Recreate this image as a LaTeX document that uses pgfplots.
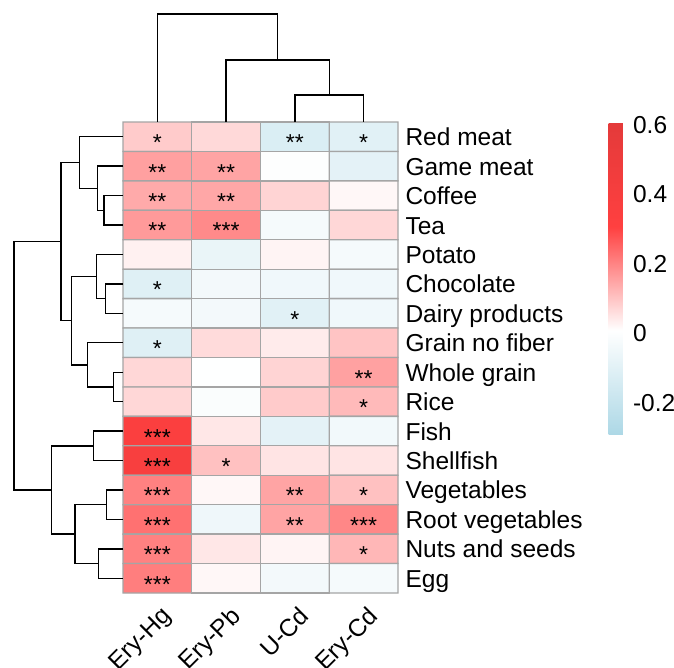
\documentclass[border=0pt]{standalone}
\usepackage{pgfplots}
\pgfplotsset{compat=1.18}
\usepackage{fontspec}
\setmainfont{Liberation Sans}

\newcommand{\lblfont}{\fontsize{24.5}{29}\selectfont}

% correlation estimates, rows top to bottom, columns Ery-Hg, Ery-Pb, U-Cd, Ery-Cd
\pgfplotstableread{
x y v
0 0 0.090
1 0 0.068
2 0 -0.125
3 0 -0.100
0 1 0.156
1 1 0.150
2 1 0.000
3 1 -0.090
0 2 0.140
1 2 0.145
2 2 0.075
3 2 0.020
0 3 0.165
1 3 0.190
2 3 -0.030
3 3 0.070
0 4 0.030
1 4 -0.070
2 4 0.025
3 4 -0.030
0 5 -0.110
1 5 -0.035
2 5 -0.045
3 5 -0.045
0 6 -0.030
1 6 -0.035
2 6 -0.100
3 6 -0.045
0 7 -0.110
1 7 0.065
2 7 0.040
3 7 0.100
0 8 0.070
1 8 0.005
2 8 0.075
3 8 0.155
0 9 0.070
1 9 -0.010
2 9 0.090
3 9 0.115
0 10 0.350
1 10 0.045
2 10 -0.090
3 10 -0.040
0 11 0.380
1 11 0.105
2 11 0.050
3 11 0.050
0 12 0.205
1 12 0.020
2 12 0.150
3 12 0.105
0 13 0.230
1 13 -0.050
2 13 0.150
3 13 0.195
0 14 0.205
1 14 0.045
2 14 0.025
3 14 0.120
0 15 0.210
1 15 0.020
2 15 -0.035
3 15 -0.030
}\corrdata

\pgfplotstableread{
x y s
0 0 *
2 0 **
3 0 *
0 1 **
1 1 **
0 2 **
1 2 **
0 3 **
1 3 ***
0 5 *
2 6 *
0 7 *
3 8 **
3 9 *
0 10 ***
0 11 ***
1 11 *
0 12 ***
2 12 **
3 12 *
0 13 ***
2 13 **
3 13 ***
0 14 ***
3 14 *
0 15 ***
}\stardata

\begin{document}
\begin{tikzpicture}[font=\lblfont]
\begin{axis}[
    at={(0,0)}, anchor=north west,
    scale only axis,
    width=275pt, height=471pt,
    xmin=-0.5, xmax=3.5, ymin=-0.5, ymax=15.5,
    y dir=reverse,
    clip=false,
    axis line style={draw=none},
    tick style={draw=none},
    xtick={0,1,2,3},
    xticklabels={Ery-Hg,Ery-Pb,U-Cd,Ery-Cd},
    ytick={0,...,15},
    yticklabels={Red meat,Game meat,Coffee,Tea,Potato,Chocolate,Dairy products,Grain no fiber,Whole grain,Rice,Fish,Shellfish,Vegetables,Root vegetables,Nuts and seeds,Egg},
    yticklabel pos=right,
    ticklabel style={font=\lblfont},
    yticklabel style={anchor=base west, yshift=-9pt, xshift=4pt},
    xticklabel style={xshift=3pt, yshift=-12pt, rotate=45, anchor=north east, inner sep=0pt},
    colormap={heat}{rgb255(0cm)=(173,216,230) rgb255(1cm)=(255,255,255) rgb255(2cm)=(255,64,64) rgb255(3cm)=(228,58,58)},
    point meta min=-0.29, point meta max=0.606,
    colorbar,
    colorbar style={
        at={(parent axis.north east)}, anchor=north west,
        xshift=202pt, yshift=-1pt,
        scale only axis,
        width=20pt, height=311pt,
        axis line style={draw=none},
        tick style={draw=none},
        ytick={-0.2,0,0.2,0.4,0.6},
        yticklabel style={font=\lblfont, /pgf/number format/assume math mode=true, xshift=1pt},
    },
    dendro/.style={black, line width=1.4pt, mark=none},
]
\addplot[matrix plot*, mesh/cols=4, point meta=explicit,
    draw={rgb,255:red,165;green,165;blue,165}, line width=1.3pt]
    table[x=x, y=y, meta=v] {\corrdata};

\addplot[draw=none, mark=none, nodes near coords, point meta=explicit symbolic,
    nodes near coords style={anchor=center, yshift=-6pt, font=\fontsize{23}{26}\selectfont}]
    table[x=x, y=y, meta=s] {\stardata};

% column dendrogram
\addplot[dendro] coordinates {(2,-0.5) (2,-1.417) (3,-1.417) (3,-0.5)};
\addplot[dendro] coordinates {(1,-0.5) (1,-2.606) (2.5,-2.606) (2.5,-1.417)};
\addplot[dendro] coordinates {(0,-0.5) (0,-4.168) (1.75,-4.168) (1.75,-2.606)};

% row dendrogram
\addplot[dendro] coordinates {(-0.5,2) (-0.776,2) (-0.776,3) (-0.5,3)};
\addplot[dendro] coordinates {(-0.5,1) (-0.874,1) (-0.874,2.5) (-0.776,2.5)};
\addplot[dendro] coordinates {(-0.5,0) (-1.136,0) (-1.136,1.75) (-0.874,1.75)};
\addplot[dendro] coordinates {(-0.5,5) (-0.752,5) (-0.752,6) (-0.5,6)};
\addplot[dendro] coordinates {(-0.5,4) (-0.883,4) (-0.883,5.5) (-0.752,5.5)};
\addplot[dendro] coordinates {(-0.5,8) (-0.641,8) (-0.641,9) (-0.5,9)};
\addplot[dendro] coordinates {(-0.5,7) (-1.019,7) (-1.019,8.5) (-0.641,8.5)};
\addplot[dendro] coordinates {(-0.883,4.75) (-1.246,4.75) (-1.246,7.75) (-1.019,7.75)};
\addplot[dendro] coordinates {(-1.136,0.875) (-1.402,0.875) (-1.402,6.25) (-1.246,6.25)};
\addplot[dendro] coordinates {(-0.5,10) (-0.932,10) (-0.932,11) (-0.5,11)};
\addplot[dendro] coordinates {(-0.5,12) (-0.737,12) (-0.737,13) (-0.5,13)};
\addplot[dendro] coordinates {(-0.5,14) (-0.859,14) (-0.859,15) (-0.5,15)};
\addplot[dendro] coordinates {(-0.737,12.5) (-1.198,12.5) (-1.198,14.5) (-0.859,14.5)};
\addplot[dendro] coordinates {(-0.932,10.5) (-1.537,10.5) (-1.537,13.5) (-1.198,13.5)};
\addplot[dendro] coordinates {(-1.402,3.5625) (-2.085,3.5625) (-2.085,12) (-1.537,12)};
\end{axis}
\pgfresetboundingbox
\useasboundingbox (-123pt,122pt) rectangle (551pt,-545pt);
\end{tikzpicture}
\end{document}
